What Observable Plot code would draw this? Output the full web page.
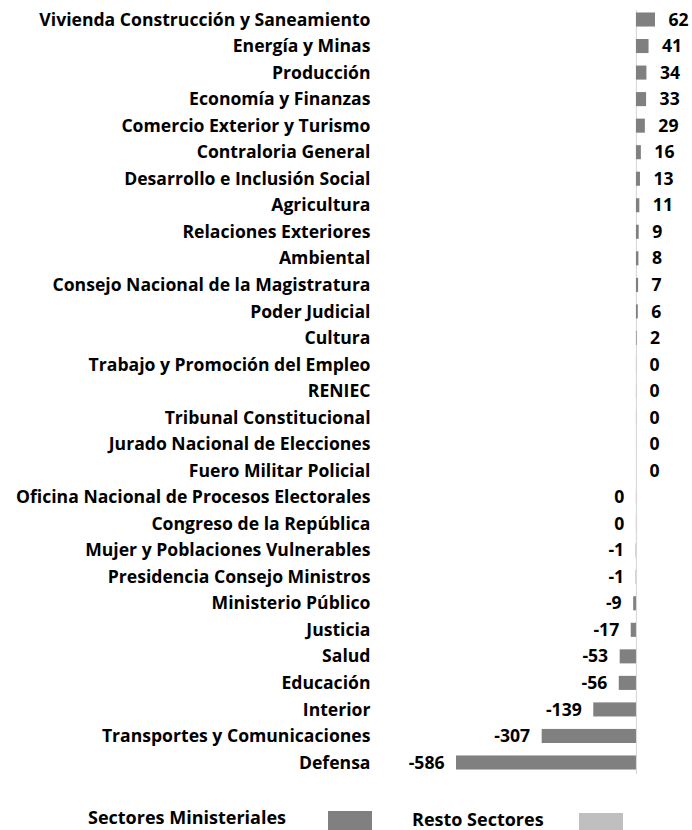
<!DOCTYPE html>
<html>
<head>
<meta charset="utf-8">
<script src="https://cdn.jsdelivr.net/npm/d3@7"></script>
<script src="https://cdn.jsdelivr.net/npm/@observablehq/plot@0.6"></script>
<style>
  html, body { margin: 0; padding: 0; background: #fff; }
  body { width: 692px; height: 830px; overflow: hidden; font-family: "Open Sans", Lato, sans-serif; }
  #chart svg { display: block; }
  .legend { position: relative; height: 48px; font-weight: 700; font-size: 18px; color: #000; }
  .legend .txt { position: absolute; line-height: 16px; white-space: nowrap; }
  .legend .sw { position: absolute; width: 44px; }
</style>
</head>
<body>
<div id="chart"></div>
<div class="legend">
  <span class="txt" id="lt1" style="left:88px;top:27px"></span>
  <span class="sw" id="ls1" style="left:328px;top:29px;height:19px"></span>
  <span class="txt" id="lt2" style="left:412px;top:29px"></span>
  <span class="sw" id="ls2" style="left:579px;top:31px;height:17px"></span>
</div>
<script>
const sectors = [
  "Vivienda Construcción y Saneamiento",
  "Energía y Minas",
  "Producción",
  "Economía y Finanzas",
  "Comercio Exterior y Turismo",
  "Contraloria General",
  "Desarrollo e Inclusión Social",
  "Agricultura",
  "Relaciones Exteriores",
  "Ambiental",
  "Consejo Nacional de la Magistratura",
  "Poder Judicial",
  "Cultura",
  "Trabajo y Promoción del Empleo",
  "RENIEC",
  "Tribunal Constitucional",
  "Jurado Nacional de Elecciones",
  "Fuero Militar Policial",
  "Oficina Nacional de Procesos Electorales",
  "Congreso de la República",
  "Mujer y Poblaciones Vulnerables",
  "Presidencia Consejo Ministros",
  "Ministerio Público",
  "Justicia",
  "Salud",
  "Educación",
  "Interior",
  "Transportes y Comunicaciones",
  "Defensa"
];
const values = [62, 41, 34, 33, 29, 16, 13, 11, 9, 8, 7, 6, 2, 0.4, 0.4, 0.4, 0.1, 0.05, -0.3, -0.3, -1, -1, -9, -17, -53, -56, -139, -307, -586];
const legendLabels = ["Sectores Ministeriales", "Resto Sectores"];
const legendColors = ["#808080", "#BFBFBF"];

const data = sectors.map((s, i) => ({sector: s, value: values[i], label: String(Math.round(values[i]))}));
const font = "'Open Sans', Lato, sans-serif";
const fs = 17.6;

const chart = Plot.plot({
  width: 692,
  height: 782,
  marginLeft: 456,
  marginRight: 37,
  marginTop: 0,
  marginBottom: 0,
  style: {fontFamily: font, fontWeight: 700, fontSize: fs + "px", color: "#000", background: "#fff", overflow: "visible"},
  x: {domain: [-586, 62], axis: null},
  y: {domain: sectors, paddingInner: 0.47, paddingOuter: 0.47, round: false, label: null},
  marks: [
    Plot.axisY({anchor: "left", tickSize: 0, tickPadding: 86, fontSize: fs, fontWeight: 700, fill: "#000", label: null}),
    Plot.ruleX([0], {stroke: "#D9D9D9", strokeWidth: 1.2, insetTop: 10, insetBottom: 8}),
    Plot.barX(data, {x: "value", y: "sector", fill: legendColors[0]}),
    Plot.text(data.filter(d => d.value >= 0), {x: "value", y: "sector", text: "label", textAnchor: "start", dx: 13, fontSize: fs, fontWeight: 700, fill: "#000"}),
    Plot.text(data.filter(d => d.value < 0), {x: "value", y: "sector", text: "label", textAnchor: "end", dx: -12, fontSize: fs, fontWeight: 700, fill: "#000"})
  ]
});
document.getElementById("chart").appendChild(chart);
document.getElementById("lt1").textContent = legendLabels[0];
document.getElementById("lt2").textContent = legendLabels[1];
document.getElementById("ls1").style.background = legendColors[0];
document.getElementById("ls2").style.background = legendColors[1];
</script>
</body>
</html>
